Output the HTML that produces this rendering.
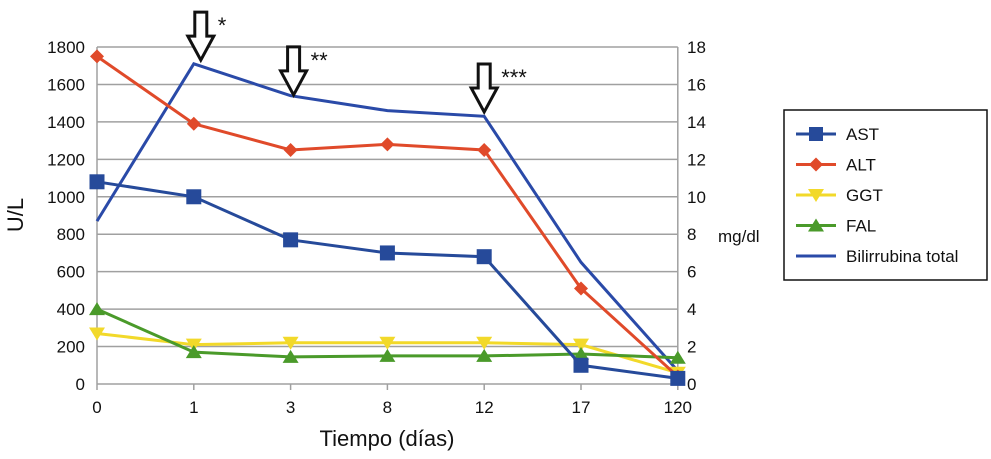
<!DOCTYPE html>
<html><head><meta charset="utf-8"><style>
body{margin:0;background:#fff;}
svg text{font-family:"Liberation Sans",sans-serif;}
</style></head><body>
<svg id="chart" width="991" height="454" viewBox="0 0 991 454" xmlns="http://www.w3.org/2000/svg"></svg>
<script>
const categories=["0","1","3","8","12","17","120"];
const ast=[1080,1000,770,700,680,100,30];
const alt=[1750,1390,1250,1280,1250,510,40];
const ggt=[270,210,220,220,220,210,60];
const fal=[400,170,145,150,150,160,140];
const bili=[8.7,17.1,15.4,14.6,14.3,6.5,0.7];
const leftTicks=[0,200,400,600,800,1000,1200,1400,1600,1800];
const rightTicks=[0,2,4,6,8,10,12,14,16,18];
const arrowCats=[1,2,4];
const arrowLabels=["*","**","***"];
const arrowVals=[1730,1544,1453];

const svg=document.getElementById('chart');
const NS='http://www.w3.org/2000/svg';
const x0=97,dx=96.8,yb=384,yt=47;
const X=i=>x0+i*dx;
const YL=v=>yb-(v/1800)*(yb-yt);
const YR=v=>yb-(v/18)*(yb-yt);
function el(tag,attrs,parent){const e=document.createElementNS(NS,tag);for(const k in attrs)e.setAttribute(k,attrs[k]);(parent||svg).appendChild(e);return e;}
function txt(s,attrs){const t=el('text',attrs);t.textContent=s;return t;}

leftTicks.forEach((v,i)=>{
  if(i>0){const g=el('line',{x1:x0,x2:X(6),y1:YL(v),y2:YL(v),stroke:'#a0a0a0','stroke-width':1.5});
  
  }
  const t=txt(String(v),{x:85,y:YL(v)+6,'text-anchor':'end','font-size':17,fill:'#111'});
  
  
});
rightTicks.forEach(v=>{
  const t=txt(String(v),{x:687,y:YR(v)+6,'font-size':17,fill:'#111'});
  
  
});
el('line',{x1:x0,x2:x0,y1:yt,y2:yb,stroke:'#a0a0a0','stroke-width':1.5});
el('line',{x1:X(6),x2:X(6),y1:yt,y2:yb,stroke:'#a0a0a0','stroke-width':1.5});
el('line',{x1:x0,x2:X(6),y1:yb,y2:yb,stroke:'#a0a0a0','stroke-width':1.5});
categories.forEach((c,i)=>{
  el('line',{x1:X(i),x2:X(i),y1:yb,y2:yb+6,stroke:'#a0a0a0','stroke-width':1.5});
  const t=txt(c,{x:X(i),y:413,'text-anchor':'middle','font-size':17,fill:'#111'});
  
  
});
let t=txt('Tiempo (días)',{x:387,y:446,'text-anchor':'middle','font-size':22,fill:'#111'});

t=txt('U/L',{x:0,y:0,'text-anchor':'middle','font-size':22,fill:'#111',transform:'translate(23,215) rotate(-90)'});

t=txt('mg/dl',{x:718,y:242,'font-size':17,fill:'#111'});


function series(vals,Y,color,marker,name){
  const pts=vals.map((v,i)=>X(i)+','+Y(v)).join(' ');
  const p=el('polyline',{points:pts,fill:'none',stroke:color,'stroke-width':3});
  
  
  vals.forEach((v,i)=>{
    const cx=X(i),cy=Y(v);let m;
    if(marker==='square')m=el('rect',{x:cx-7.5,y:cy-7.5,width:15,height:15,fill:color});
    else if(marker==='diamond')m=el('polygon',{points:`${cx},${cy-7} ${cx+7},${cy} ${cx},${cy+7} ${cx-7},${cy}`,fill:color});
    else if(marker==='down')m=el('polygon',{points:`${cx-8},${cy-6} ${cx+8},${cy-6} ${cx},${cy+7}`,fill:color});
    else if(marker==='up')m=el('polygon',{points:`${cx-8},${cy+6} ${cx+8},${cy+6} ${cx},${cy-7}`,fill:color});
    if(m){
    }
  });
}
series(bili,YR,'#2a4aa8',null,'bilirrubina');
series(ggt,YL,'#f2d92a','down','ggt');
series(fal,YL,'#4a9a2a','up','fal');
series(alt,YL,'#e04a2a','diamond','alt');
series(ast,YL,'#264a9a','square','ast');

arrowCats.forEach((c,i)=>{
  const cx=X(c)+ (i===0?7:(i===1?3:0));const tip=YL(arrowVals[i]);
  const a=el('polygon',{points:`${cx-6},${tip-48} ${cx+6},${tip-48} ${cx+6},${tip-24} ${cx+13},${tip-24} ${cx},${tip} ${cx-13},${tip-24} ${cx-6},${tip-24}`,fill:'#fff',stroke:'#111','stroke-width':3});
  
  
  const s=txt(arrowLabels[i],{x:cx+17,y:tip-27,'font-size':22,fill:'#111'});
  
  
});

const lg=el('g',{});


el('rect',{x:784,y:110,width:203,height:170,fill:'#fff',stroke:'#111','stroke-width':1.5},lg);
const lgItems=[['AST','#264a9a','square'],['ALT','#e04a2a','diamond'],['GGT','#f2d92a','down'],['FAL','#4a9a2a','up'],['Bilirrubina total','#2a4aa8',null]];
lgItems.forEach((it,i)=>{
  const y=134+i*30.5;
  el('line',{x1:796,x2:836,y1:y,y2:y,stroke:it[1],'stroke-width':3},lg);
  const cx=816;
  if(it[2]==='square')el('rect',{x:cx-7,y:y-7,width:14,height:14,fill:it[1]},lg);
  if(it[2]==='diamond')el('polygon',{points:`${cx},${y-7} ${cx+7},${y} ${cx},${y+7} ${cx-7},${y}`,fill:it[1]},lg);
  if(it[2]==='down')el('polygon',{points:`${cx-8},${y-6} ${cx+8},${y-6} ${cx},${y+7}`,fill:it[1]},lg);
  if(it[2]==='up')el('polygon',{points:`${cx-8},${y+6} ${cx+8},${y+6} ${cx},${y-7}`,fill:it[1]},lg);
  const tt=el('text',{x:846,y:y+6,'font-size':17,fill:'#111'},lg);tt.textContent=it[0];
  
  
});
</script>
</body></html>
